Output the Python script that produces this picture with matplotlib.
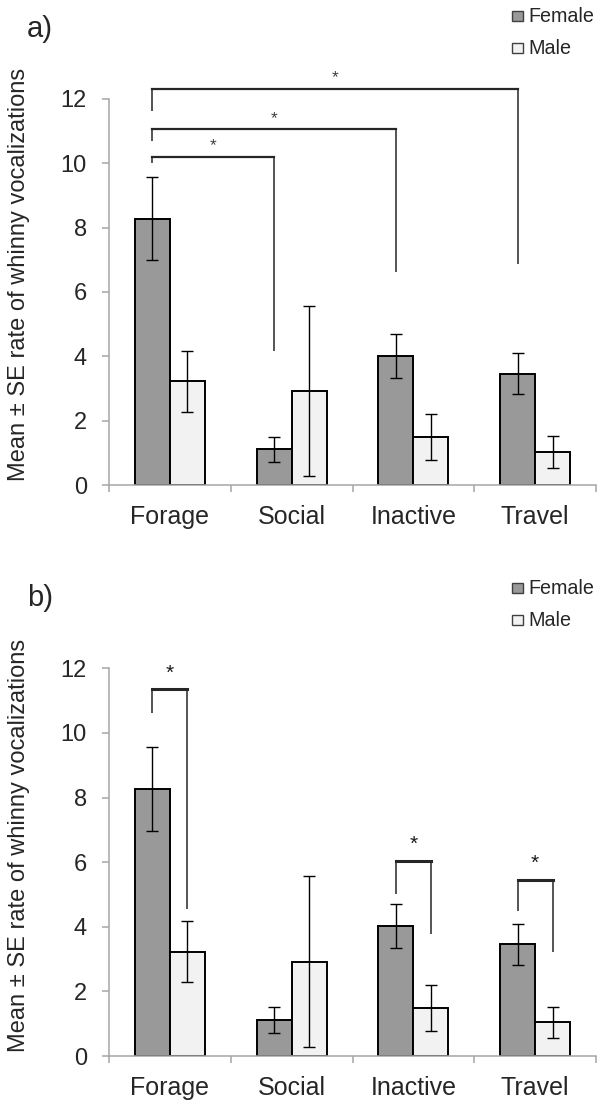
import numpy as np
import matplotlib
matplotlib.use('Agg')
import matplotlib.pyplot as plt
from matplotlib.patches import Rectangle

plt.rcParams['font.family'] = ['Liberation Sans', 'DejaVu Sans']

#### Data ##############################################
categories = ['Forage', 'Social', 'Inactive', 'Travel']
female_mean = [8.27, 1.12, 4.02, 3.46]
female_se = [1.29, 0.39, 0.68, 0.64]
male_mean = [3.23, 2.92, 1.50, 1.04]
male_se = [0.94, 2.64, 0.71, 0.49]
y_ticks = [0, 2, 4, 6, 8, 10, 12]
ylabel = 'Mean \u00b1 SE rate of whinny vocalizations'

# a) Forage female vs the other females: (target index, top, left end, right end)
brackets_a = [(1, 10.19, 10.00, 4.18),
              (2, 11.05, 10.69, 6.63),
              (3, 12.30, 11.63, 6.86)]
# b) female vs male inside a behaviour: (category index, top, left end, right end)
brackets_b = [(0, 11.35, 10.63, 4.55),
              (2, 6.05, 5.01, 3.77),
              (3, 5.46, 4.49, 3.22)]
#########################################################

W, H = 598, 1101
fig = plt.figure(figsize=(W / 100, H / 100), dpi=100)

bw = 0.287
f_col = '#999999'
m_col = '#f2f2f2'
ax_col = '#a6a6a6'
txt_col = '#262626'
x = np.arange(len(categories))
xf = x - bw / 2
xm = x + bw / 2


def make_axes(top_px, bottom_px):
    ax = fig.add_axes([109 / W, 1 - bottom_px / H, 487 / W, (bottom_px - top_px) / H])
    ax.bar(xf, female_mean, bw, color=f_col, edgecolor='black', lw=1.4, zorder=2)
    ax.bar(xm, male_mean, bw, color=m_col, edgecolor='black', lw=1.4, zorder=2)
    ax.errorbar(xf, female_mean, yerr=female_se, fmt='none', ecolor='black',
                elinewidth=1.0, capsize=4, capthick=1.0, zorder=3)
    ax.errorbar(xm, male_mean, yerr=male_se, fmt='none', ecolor='black',
                elinewidth=1.0, capsize=4, capthick=1.0, zorder=3)
    ax.set_xlim(-0.5, len(categories) - 0.5)
    ax.set_ylim(0, 12)
    ax.set_yticks(y_ticks)
    ax.set_xticks(x)
    ax.set_xticklabels(categories)
    ax.set_xticks(np.arange(len(categories) + 1) - 0.5, minor=True)
    for s in ['top', 'right']:
        ax.spines[s].set_visible(False)
    for s in ['left', 'bottom']:
        ax.spines[s].set_color(ax_col)
        ax.spines[s].set_linewidth(1.1)
    ax.tick_params(axis='y', length=5, width=1.1, color=ax_col, pad=11,
                   labelsize=17, labelcolor=txt_col)
    ax.tick_params(axis='x', which='major', length=0, pad=14,
                   labelsize=18, labelcolor=txt_col)
    ax.tick_params(axis='x', which='minor', length=5, width=1.1, color=ax_col)
    return ax


def legend(top_px):
    for i, (lab, col) in enumerate([('Female', f_col), ('Male', m_col)]):
        yc = top_px + i * 32
        fig.patches.append(Rectangle((512 / W, 1 - (yc + 5) / H), 10.5 / W, 10.5 / H,
                                     transform=fig.transFigure, facecolor=col,
                                     edgecolor='#404040', lw=1.0))
        fig.text(528 / W, 1 - yc / H, lab, fontsize=14.2, color=txt_col,
                 va='center', ha='left')


# ---- panel a ----
ax1 = make_axes(98.7, 485.3)
for j, top, lo_l, lo_r in brackets_a:
    x0, x1 = xf[0], xf[j]
    ax1.plot([x0, x0], [lo_l, top], color='#262626', lw=1.1, clip_on=False,
             solid_capstyle='butt')
    ax1.plot([x1, x1], [lo_r, top], color='#262626', lw=1.1, clip_on=False,
             solid_capstyle='butt')
    ax1.plot([x0, x1], [top, top], color='#262626', lw=1.6, clip_on=False,
             solid_capstyle='projecting')
    ax1.text((x0 + x1) / 2, top + 0.2, '*', fontsize=12.5, color='#404040',
             ha='center', va='baseline', clip_on=False)
fig.text(27 / W, 1 - 37 / H, 'a)', fontsize=21, color=txt_col, va='baseline')
legend(16)
fig.text(19 / W, 1 - 274.5 / H, ylabel, rotation=90, fontsize=17,
         color=txt_col, ha='center', va='center')

# ---- panel b ----
ax2 = make_axes(668.3, 1056.1)
for j, top, lo_l, lo_r in brackets_b:
    x0, x1 = xf[j], xm[j]
    ax2.plot([x0, x0], [lo_l, top], color='#262626', lw=1.1, clip_on=False,
             solid_capstyle='butt')
    ax2.plot([x1, x1], [lo_r, top], color='#262626', lw=1.1, clip_on=False,
             solid_capstyle='butt')
    ax2.plot([x0, x1], [top, top], color='#262626', lw=2.2, clip_on=False,
             solid_capstyle='projecting')
    ax2.text((x0 + x1) / 2, top + 0.32, '*', fontsize=15, color='#1a1a1a',
             ha='center', va='baseline', clip_on=False)
fig.text(27 / W, 1 - 605.5 / H, 'b)', fontsize=21, color=txt_col, va='baseline')
legend(588.4)
fig.text(19 / W, 1 - 845.5 / H, ylabel, rotation=90, fontsize=17,
         color=txt_col, ha='center', va='center')

fig.savefig('out.png', dpi=100)
